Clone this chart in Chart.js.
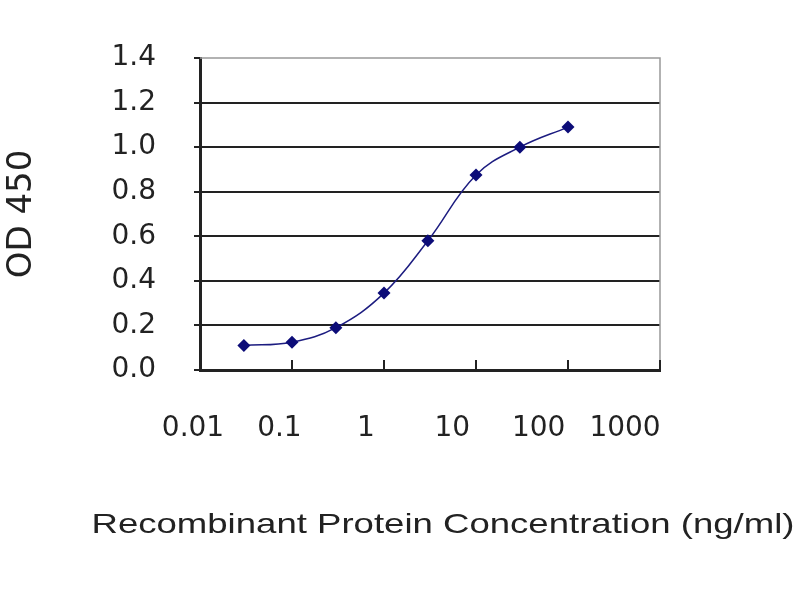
<!doctype html>
<html lang="en">
<head>
    <meta charset="utf-8">
    <title>OD 450 vs Recombinant Protein Concentration</title>
    <style>
        body { margin: 0; background: #fff; }
    </style>
</head>
<body>
    <canvas id="myChart" width="800" height="600"></canvas>

    <script src="https://cdn.jsdelivr.net/npm/chart.js"></script>
    <script>
        // setup
        const concentrations = [0.03, 0.1, 0.3, 1, 3, 10, 30, 100];   // ng/ml
        const od450 = [0.11, 0.125, 0.19, 0.345, 0.58, 0.875, 1.0, 1.09];
        const xTicks = [0.01, 0.1, 1, 10, 100, 1000];
        const yTicks = [0, 0.2, 0.4, 0.6, 0.8, 1.0, 1.2, 1.4];
        const xTitle = 'Recombinant Protein Concentration (ng/ml)';

        const textColor = '#222';
        const navy = '#0c0c78';

        Chart.defaults.font.family = "'DejaVu Sans', sans-serif";
        Chart.defaults.color = textColor;

        const data = {
            datasets: [{
                label: 'OD 450',
                data: concentrations.map((c, i) => ({ x: c, y: od450[i] })),
                borderColor: '#1c1c80',
                borderWidth: 1.5,
                backgroundColor: navy,
                pointStyle: 'rectRot',
                pointRadius: 6.5,
                pointBorderWidth: 0,
                tension: 0.4,
                fill: false
            }]
        };

        // inward tick marks on x axis, light frame on top/right, x title
        const frame = {
            id: 'frame',
            afterDraw: (chart) => {
                const ctx = chart.ctx;
                const { left, top, right, bottom } = chart.chartArea;
                const x = chart.scales.x;
                ctx.save();
                ctx.strokeStyle = '#999';
                ctx.lineWidth = 1.5;
                ctx.beginPath();
                ctx.moveTo(left, top);
                ctx.lineTo(right, top);
                ctx.lineTo(right, bottom);
                ctx.stroke();
                ctx.strokeStyle = textColor;
                ctx.lineWidth = 2;
                xTicks.forEach(v => {
                    const px = x.getPixelForValue(v);
                    ctx.beginPath();
                    ctx.moveTo(px, bottom);
                    ctx.lineTo(px, bottom - 10);
                    ctx.stroke();
                });
                // axis title: the original is Arial stretched sideways, so scale it the same way
                ctx.fillStyle = textColor;
                ctx.font = "28px 'Liberation Sans', Arial, sans-serif";
                ctx.textAlign = 'center';
                ctx.textBaseline = 'alphabetic';
                const w = ctx.measureText(xTitle).width;
                const sx = 703 / w;
                ctx.translate(chart.width / 2 + 43, 533);
                ctx.scale(sx, 1);
                ctx.fillText(xTitle, 0, 0);
                ctx.restore();
            }
        };

        const background = {
            id: 'background',
            beforeDraw: (chart) => {
                const ctx = chart.ctx;
                ctx.save();
                ctx.fillStyle = '#fff';
                ctx.fillRect(0, 0, chart.width, chart.height);
                ctx.restore();
            }
        };

        // config
        const config = {
            type: 'line',
            data,
            plugins: [background, frame],
            options: {
                responsive: false,
                animation: false,
                devicePixelRatio: 1,
                layout: { padding: { left: 0, right: 140, top: 58, bottom: 0 } },
                plugins: {
                    legend: { display: false },
                    tooltip: { enabled: false }
                },
                scales: {
                    x: {
                        type: 'logarithmic',
                        min: 0.01,
                        max: 1000,
                        afterBuildTicks: (scale) => {
                            scale.ticks = xTicks.map(v => ({ value: v }));
                        },
                        afterFit: (scale) => { scale.height = 0; },
                        ticks: { display: false },
                        grid: { display: false, drawTicks: false },
                        border: { display: true, color: textColor, width: 3 }
                    },
                    // label row; in the original the labels sit on a slightly tighter spacing than the ticks
                    xLabels: {
                        type: 'logarithmic',
                        position: 'bottom',
                        min: 0.01205,
                        max: 2541,
                        afterBuildTicks: (scale) => {
                            scale.ticks = xTicks.map(v => ({ value: v }));
                        },
                        afterFit: (scale) => { scale.height = 230; },
                        ticks: {
                            autoSkip: false,
                            maxRotation: 0,
                            padding: 42,
                            font: { size: 28 },
                            color: textColor,
                            callback: (value) => String(value)
                        },
                        grid: { display: false, drawTicks: false },
                        border: { display: false }
                    },
                    y: {
                        min: 0,
                        max: 1.4,
                        afterBuildTicks: (scale) => {
                            scale.ticks = yTicks.map(v => ({ value: v }));
                        },
                        afterFit: (scale) => { scale.width = 200; },
                        ticks: {
                            padding: 38,
                            font: { size: 28 },
                            color: textColor,
                            callback: (value) => value.toFixed(1)
                        },
                        grid: {
                            color: (c) => c.tick && c.tick.value >= 1.4 ? 'rgba(0,0,0,0)' : textColor,
                            lineWidth: 2,
                            tickLength: 6,
                            tickColor: textColor
                        },
                        border: { display: true, color: textColor, width: 3 },
                        title: {
                            display: true,
                            text: 'OD 450',
                            font: { size: 34 },
                            color: textColor,
                            padding: { top: 2, bottom: 0 }
                        }
                    }
                }
            }
        };

        // render init block
        const myChart = new Chart(document.getElementById('myChart'), config);
    </script>
</body>
</html>
